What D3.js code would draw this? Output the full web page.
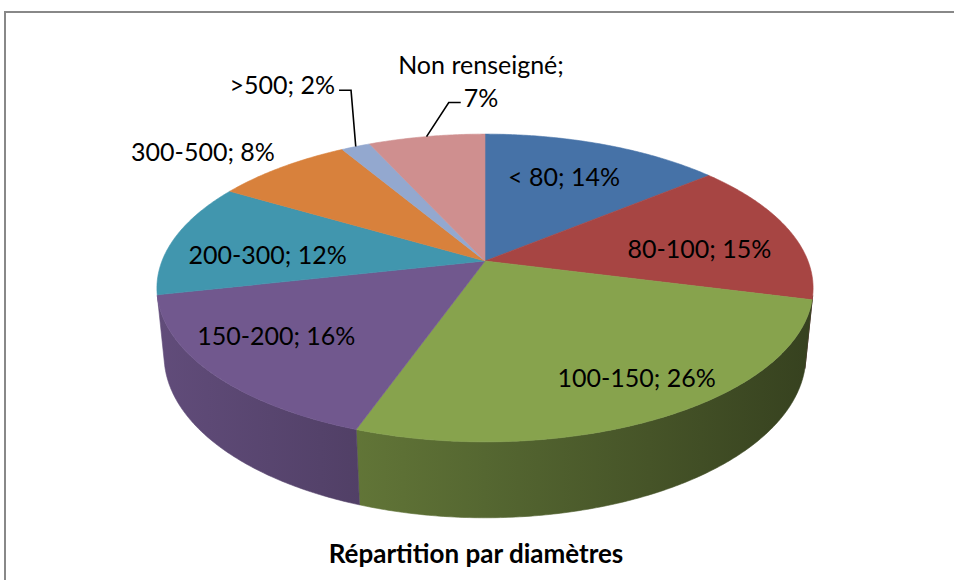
<!DOCTYPE html>
<html>
<head>
<meta charset="utf-8">
<script src="https://cdn.jsdelivr.net/npm/d3@7"></script>
<style>
    body { margin: 0; background: #fff; }
    text { font-family: Lato, "Open Sans", sans-serif; fill: #000; }
</style>
</head>
<body>
<script>
"use strict";
(function(){
    // data
    const categories = ["< 80", "80-100", "100-150", "150-200", "200-300", "300-500", ">500", "Non renseigné"]
    const shares = [14.0, 15.0, 26.4, 16.1, 12.0, 8.0, 1.7, 6.8]
    const title = "Répartition par diamètres"

    // slice colours (top face)
    const colors = ["#4672a7", "#a74543", "#87a34d", "#71588e", "#4196ae", "#d8813c", "#93a8cf", "#cf8f8f"]

    // where each label sits: radius (1 = rim) and angle shift in degrees
    const labelLayout = [
        { r: 0.69, dt: -2 },
        { r: 0.68, dt: 5 },
        { r: 0.80, dt: -3 },
        { r: 0.75, dt: 4 },
        { r: 0.68, dt: -5 },
        { r: 1.13, dt: 3.6, anchor: "end" },
        { r: 1.54, dt: 6, anchor: "end", leader: true },
        { r: 1.31, dt: 8.2, anchor: "start", leader: true }
    ]

    const measurements = {
        width: 954,
        height: 580,
        cx: 485,
        cy: 261,
        scale: 323,      // half width of the disc at its centre, px
        elev: 27.5,      // camera elevation, degrees
        radius: 0.1977,  // disc radius / camera distance
        depth: 0.238     // wall height / disc radius
    }

    const sinE = Math.sin(measurements.elev * Math.PI / 180)
    const cosE = Math.cos(measurements.elev * Math.PI / 180)
    const Rn = measurements.radius
    const f = measurements.scale / Rn

    // perspective projection of a point on the disc (theta clockwise from 12 o'clock)
    function proj(theta, r, down) {
        const u = r * Rn * Math.sin(theta)
        const v = -r * Rn * Math.cos(theta)
        const d = (down || 0) * Rn
        const Y = v * sinE + d * cosE
        const Z = 1 - v * cosE + d * sinE
        return [measurements.cx + f * u / Z, measurements.cy + f * Y / Z]
    }

    function arcPoints(a0, a1, r, down) {
        const n = Math.max(2, Math.ceil(Math.abs(a1 - a0) / 0.01))
        const pts = []
        for (let i = 0; i <= n; i++) {
            pts.push(proj(a0 + (a1 - a0) * i / n, r, down))
        }
        return pts
    }

    const svg = d3.select("body").append("svg")
        .attr("width", measurements.width)
        .attr("height", measurements.height)

    // chart frame
    svg.append("rect")
        .attr("x", 5)
        .attr("y", 12)
        .attr("width", 980)
        .attr("height", 620)
        .attr("fill", "#fff")
        .attr("stroke", "#888")
        .attr("stroke-width", 2)

    const total = d3.sum(shares)
    const arcs = d3.pie().sort(null).value(d => d)(shares)
    const line = d3.line()

    // visible part of the outer wall
    const phi = Math.acos(Rn / cosE)
    const wallMin = Math.PI - phi
    const wallMax = Math.PI + phi

    const xLeft = proj(1.5 * Math.PI, 1, 0)[0] - 5
    const xRight = proj(0.5 * Math.PI, 1, 0)[0] + 5
    const shade = d3.scaleLinear().domain([xLeft, xRight]).range([0.86, 0.40])

    const defs = svg.append("defs")
    colors.forEach(function(c, i) {
        const g = defs.append("linearGradient")
            .attr("id", "wall" + i)
            .attr("gradientUnits", "userSpaceOnUse")
            .attr("x1", xLeft).attr("x2", xRight)
            .attr("y1", 0).attr("y2", 0)
        d3.range(0, 1.001, 0.25).forEach(function(t) {
            const x = xLeft + t * (xRight - xLeft)
            const k = shade(x)
            const col = d3.rgb(c)
            g.append("stop")
                .attr("offset", t)
                .attr("stop-color", d3.rgb(col.r * k, col.g * k, col.b * k))
        })
    })

    // walls
    arcs.forEach(function(a, i) {
        const s = Math.max(a.startAngle, wallMin)
        const e = Math.min(a.endAngle, wallMax)
        if (e <= s) return
        const top = arcPoints(s, e, 1, 0)
        const bottom = arcPoints(e, s, 1, measurements.depth)
        svg.append("path")
            .attr("d", line(top.concat(bottom)) + "Z")
            .attr("fill", "url(#wall" + i + ")")
            .attr("stroke", "url(#wall" + i + ")")
            .attr("stroke-width", 0.6)
    })

    // top faces
    arcs.forEach(function(a, i) {
        const pts = [proj(0, 0, 0)].concat(arcPoints(a.startAngle, a.endAngle, 1, 0))
        svg.append("path")
            .attr("d", line(pts) + "Z")
            .attr("fill", colors[i])
            .attr("stroke", colors[i])
            .attr("stroke-width", 0.6)
            .attr("stroke-linejoin", "round")
    })

    // data labels
    const fontSize = 25
    arcs.forEach(function(a, i) {
        const lay = labelLayout[i]
        const mid = (a.startAngle + a.endAngle) / 2
        const pct = Math.round(shares[i] / total * 100) + "%"
        const L = proj(mid + lay.dt * Math.PI / 180, lay.r, 0)
        if (!lay.leader) {
            svg.append("text")
                .attr("x", L[0])
                .attr("y", L[1])
                .attr("text-anchor", lay.anchor || "middle")
                .attr("dominant-baseline", "central")
                .style("font-size", fontSize + "px")
                .text(categories[i] + "; " + pct)
            return
        }
        const side = lay.anchor === "end" ? 1 : -1
        const P = proj(mid, 1, 0)
        const E = [L[0] + side * 12, L[1]]
        svg.append("path")
            .attr("d", line([P, E, L]))
            .attr("fill", "none")
            .attr("stroke", "#000")
            .attr("stroke-width", 1.6)
        if (lay.anchor === "end") {
            svg.append("text")
                .attr("x", L[0] - 4)
                .attr("y", L[1] - 6)
                .attr("text-anchor", "end")
                .attr("dominant-baseline", "central")
                .style("font-size", fontSize + "px")
                .text(categories[i] + "; " + pct)
        } else {
            // two-line label, centred lines
            const second = svg.append("text")
                .attr("y", L[1] - 5)
                .attr("text-anchor", "middle")
                .attr("dominant-baseline", "central")
                .style("font-size", fontSize + "px")
                .text(pct)
            const w = second.node().getComputedTextLength()
            const cxText = L[0] + 3 + w / 2
            second.attr("x", cxText)
            svg.append("text")
                .attr("x", cxText)
                .attr("y", L[1] - 38)
                .attr("text-anchor", "middle")
                .attr("dominant-baseline", "central")
                .style("font-size", fontSize + "px")
                .text(categories[i] + ";")
        }
    })

    // title
    svg.append("text")
        .attr("x", measurements.cx - 9)
        .attr("y", 553)
        .attr("text-anchor", "middle")
        .attr("dominant-baseline", "central")
        .style("font-size", "26px")
        .style("font-weight", "bold")
        .text(title)
})()
</script>
</body>
</html>
